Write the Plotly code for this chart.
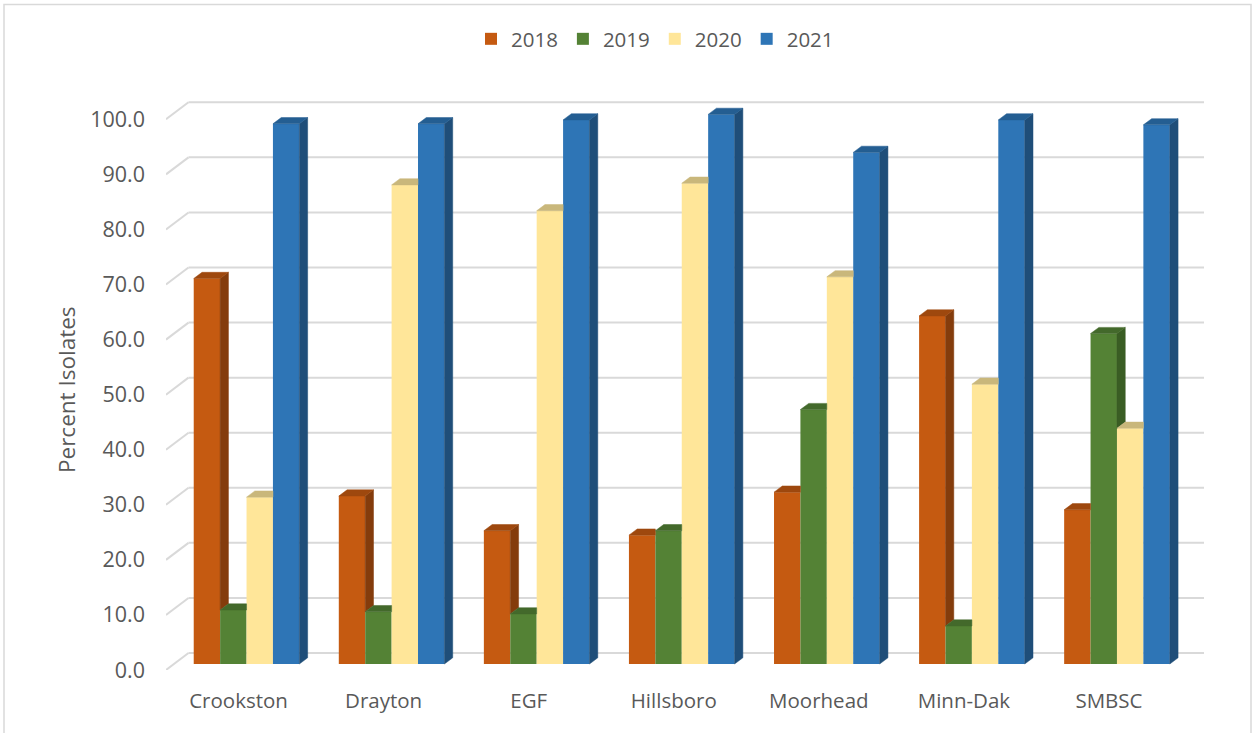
import plotly.graph_objects as go

# Isolate percentages per factory district and year
categories = ["Crookston", "Drayton", "EGF", "Hillsboro", "Moorhead", "Minn-Dak", "SMBSC"]
years = ["2018", "2019", "2020", "2021"]
pct_2018 = [70.0, 30.5, 24.2, 23.4, 31.2, 63.2, 28.0]
pct_2019 = [9.8, 9.5, 9.1, 24.2, 46.2, 6.9, 60.0]
pct_2020 = [30.3, 87.0, 82.3, 87.3, 70.3, 50.8, 42.8]
pct_2021 = [98.1, 98.1, 98.8, 99.8, 92.9, 98.8, 97.9]
series = [pct_2018, pct_2019, pct_2020, pct_2021]
y_ticks = [0, 10, 20, 30, 40, 50, 60, 70, 80, 90, 100]

front_colors = ["#C55A11", "#548235", "#FFE699", "#2E75B6"]
side_colors = ["#843C0C", "#3A5D24", "#BFAE73", "#1F4E79"]
top_colors = ["#9E480E", "#43692B", "#C9B77B", "#245E92"]

# Figure geometry (pixels) used to derive the pseudo-3D offsets in axis units
W_PX, H_PX = 1254, 733
PX_X = 145.08          # pixels per category
PX_Y = 5.507           # pixels per percent
WALL_DX, WALL_DY = 22.5 / PX_X, 17.0 / PX_Y     # depth of the back wall
FRONT_DX, FRONT_DY = 8.0 / PX_X, 6.0 / PX_Y     # bars sit a little behind the front plane
BAR_DX, BAR_DY = 8.3 / PX_X, 6.2 / PX_Y         # depth of each bar
BAR_W = 0.182
X_MIN, X_MAX = -0.5, len(categories) - 0.5 + WALL_DX
M_L, M_T, M_B = 166, 95, 63
M_R = W_PX - M_L - round((X_MAX - X_MIN) * PX_X)
Y_MAX = (H_PX - M_T - M_B) / PX_Y

FONT = "Open Sans"
TXT = "#595959"
GRID = "#D9D9D9"

fig = go.Figure()

# Front faces of the bars
for i, (name, vals) in enumerate(zip(years, series)):
    fig.add_trace(go.Bar(
        x=list(range(len(categories))), y=vals, base=FRONT_DY, name=name,
        width=BAR_W, offset=FRONT_DX + (i - 2) * BAR_W,
        marker=dict(color=front_colors[i], line=dict(width=0)),
    ))

# Side and top faces, computed from the same values
for i, vals in enumerate(series):
    sx, sy, tx, ty = [], [], [], []
    for c, v in enumerate(vals):
        left = c + FRONT_DX + (i - 2) * BAR_W
        right = left + BAR_W
        top = FRONT_DY + v
        nxt = FRONT_DY + series[i + 1][c] if i < len(series) - 1 else None
        # side face: only the part not hidden by the next bar in the group
        if nxt is None or nxt < top:
            lo = FRONT_DY if nxt is None else nxt
            sx += [right, right + BAR_DX, right + BAR_DX, right, right, None]
            sy += [lo, lo + BAR_DY, top + BAR_DY, top, lo, None]
        # top face, clipped where a taller neighbour stands in front
        r_edge = right + BAR_DX if (nxt is None or nxt < top) else right
        tx += [left, left + BAR_DX, r_edge, right, left, None]
        ty += [top, top + BAR_DY, top + BAR_DY, top, top, None]
    fig.add_trace(go.Scatter(x=sx, y=sy, mode="lines", fill="toself",
                             fillcolor=side_colors[i], line=dict(width=0.5, color=side_colors[i]),
                             hoverinfo="skip", showlegend=False))
    fig.add_trace(go.Scatter(x=tx, y=ty, mode="lines", fill="toself",
                             fillcolor=top_colors[i], line=dict(width=0.5, color=top_colors[i]),
                             hoverinfo="skip", showlegend=False))

# Gridlines on the back wall with their receding side segment
shapes = []
for t in y_ticks:
    shapes.append(dict(type="line", xref="x", yref="y", layer="below",
                       x0=X_MIN, y0=t, x1=X_MIN + WALL_DX, y1=t + WALL_DY,
                       line=dict(color=GRID, width=2)))
    shapes.append(dict(type="line", xref="x", yref="y", layer="below",
                       x0=X_MIN + WALL_DX, y0=t + WALL_DY, x1=X_MAX, y1=t + WALL_DY,
                       line=dict(color=GRID, width=2)))

# Chart frame
plot_w = W_PX - M_L - M_R
plot_h = H_PX - M_T - M_B
shapes.append(dict(type="rect", xref="paper", yref="paper", layer="below",
                   x0=(4 - M_L) / plot_w, x1=(1251 - M_L) / plot_w,
                   y0=(H_PX - M_T - 745) / plot_h, y1=(H_PX - M_B - 4.5) / plot_h,
                   line=dict(color=GRID, width=1.5), fillcolor="rgba(0,0,0,0)"))

fig.update_layout(
    width=W_PX, height=H_PX,
    margin=dict(l=M_L, r=M_R, t=M_T, b=M_B),
    paper_bgcolor="white", plot_bgcolor="white",
    barmode="overlay",
    shapes=shapes,
    font=dict(family=FONT, size=20, color=TXT),
    legend=dict(orientation="h", x=(655 - M_L) / plot_w, xanchor="center",
                y=(H_PX - M_B - 39) / plot_h, yanchor="middle",
                font=dict(size=20.5, color=TXT), traceorder="normal",
                itemclick=False, bgcolor="rgba(0,0,0,0)"),
    xaxis=dict(range=[X_MIN, X_MAX], tickvals=list(range(len(categories))),
               ticktext=categories, showgrid=False, zeroline=False, showline=False,
               ticks="", ticklabelstandoff=16, tickfont=dict(size=20.5, color=TXT)),
    yaxis=dict(range=[0, Y_MAX], tickvals=y_ticks, ticktext=[f"{t:.1f}" for t in y_ticks],
               showgrid=False, zeroline=False, showline=False, ticks="",
               ticklabelstandoff=20, tickfont=dict(size=21.5, color=TXT)),
    annotations=[dict(text="Percent Isolates", textangle=-90, showarrow=False,
                      xref="paper", yref="paper",
                      x=(67 - M_L) / plot_w, y=(H_PX - M_B - 390) / plot_h,
                      xanchor="center", yanchor="middle",
                      font=dict(size=22.5, color=TXT))],
)

fig.write_html("out.html")
